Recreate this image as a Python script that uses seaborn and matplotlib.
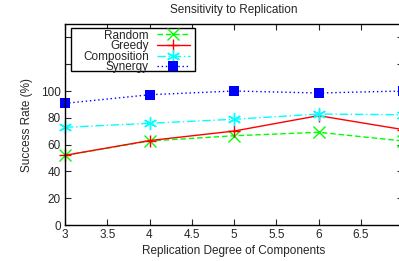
import matplotlib
matplotlib.use("Agg")
import matplotlib.pyplot as plt
from matplotlib.patches import Rectangle
import seaborn as sns

# data
degree = [3, 4, 5, 6, 7]
random_rate = [52, 62.7, 66.6, 69.2, 62.7]
greedy_rate = [52, 63, 70.1, 81.6, 71.2]
composition_rate = [72.9, 75.9, 78.9, 82.8, 82.3]
synergy_rate = [90.8, 97.2, 100, 98.5, 100]

x_ticks = [3, 3.5, 4, 4.5, 5, 5.5, 6, 6.5, 7]
x_tick_labels = ["3", "3.5", "4", "4.5", "5", "5.5", "6", "6.5", ""]
y_ticks = [0, 20, 40, 60, 80, 100, 120, 140]
y_tick_labels = ["0", "20", "40", "60", "80", "100", "", ""]

sns.set_style("ticks")
plt.rcParams["font.family"] = ["Liberation Sans", "DejaVu Sans"]

# gnuplot-like line types
STYLES = {
    "Random": dict(color="#00ff00", linestyle=(0, (4, 2)), marker="x", ms=8),
    "Greedy": dict(color="#ff0000", linestyle="-", marker="+", ms=9),
    "Composition": dict(color="#00ffff", linestyle=(0, (6, 2, 1, 2)), marker=(6, 2, 0), ms=9.5),
    "Synergy": dict(color="#0000ff", linestyle=(0, (1, 2)), marker="s", ms=7.5),
}
series = {
    "Random": random_rate,
    "Greedy": greedy_rate,
    "Composition": composition_rate,
    "Synergy": synergy_rate,
}

fig = plt.figure(figsize=(3.99, 2.61), dpi=100)
ax = fig.add_axes([65 / 399, 1 - 225 / 261, (403 - 65) / 399, (225 - 24) / 261])

for name, vals in series.items():
    st = STYLES[name]
    sns.lineplot(x=degree, y=vals, ax=ax, label=name, color=st["color"],
                 linestyle=st["linestyle"], marker=st["marker"], markersize=st["ms"],
                 markeredgewidth=0 if name == "Synergy" else 1.0,
                 markeredgecolor=st["color"], linewidth=1.0, clip_on=False)

ax.set_xlim(3, 7)
ax.set_ylim(0, 150)
ax.set_xticks(x_ticks)
ax.set_xticklabels(x_tick_labels)
ax.set_yticks(y_ticks)
ax.set_yticklabels(y_tick_labels)
ax.tick_params(direction="in", length=4, width=0.8, labelsize=8.5,
               top=True, right=True, pad=3)
for sp in ax.spines.values():
    sp.set_linewidth(1.0)
    sp.set_color("black")

ax.set_title("Sensitivity to Replication", fontsize=8.5, pad=8)
ax.set_xlabel("Replication Degree of Components", fontsize=8.5, labelpad=3)
ax.set_ylabel("Success Rate (%)", fontsize=8.5, labelpad=6)

# legend text right-aligned with the sample after it, inside a plain box
leg = ax.legend(loc="upper left", bbox_to_anchor=(0.053, 0.972), markerfirst=False,
                fontsize=8.5, frameon=False, handlelength=2.8,
                handletextpad=0.68, labelspacing=-0.12, borderpad=0,
                borderaxespad=0)
ax.add_patch(Rectangle((0.0178, 0.766), 0.367, 0.214, transform=ax.transAxes,
                       fill=True, facecolor="white", edgecolor="black",
                       linewidth=1.0, zorder=4))
leg.set_zorder(5)

fig.savefig("out.png", dpi=100)
